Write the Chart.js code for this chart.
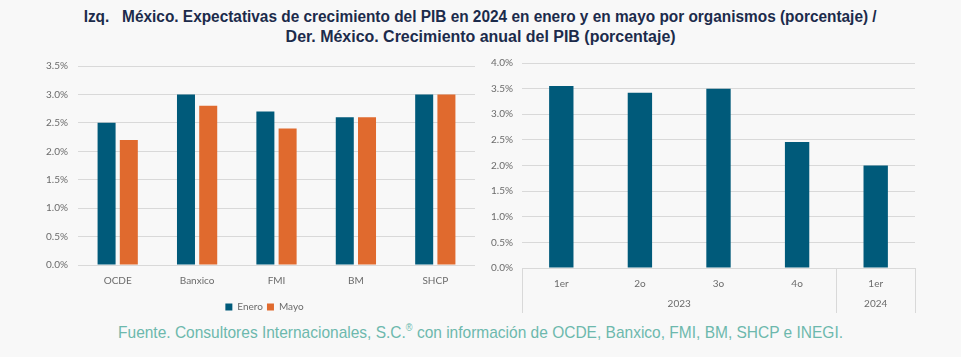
<!DOCTYPE html>
<html>
<head>
<meta charset="utf-8">
<script src="https://cdn.jsdelivr.net/npm/chart.js@4.4.1/dist/chart.umd.min.js"></script>
<style>
  html, body { margin:0; padding:0; background:#f8f8f8; }
  body { width:961px; height:357px; position:relative; overflow:hidden; }
  .line { position:absolute; left:0; width:961px; text-align:center; white-space:nowrap; }
  .line span { display:inline-block; transform-origin:center center; }
  #t1, #t2 { font-family:"Liberation Sans", Arial, sans-serif; font-weight:bold; font-size:16px; color:#1c2b4b; }
  #t1 { top:8px; }
  #t2 { top:28px; }
  #foot { top:322px; font-family:"Liberation Sans", Arial, sans-serif; font-size:17px; color:#6db8ad; }
  #c1wrap { position:absolute; left:30px; top:50px; width:450px; height:272px; }
  #c2wrap { position:absolute; left:485px; top:48px; width:440px; height:267px; }
</style>
</head>
<body>
<div class="line" id="t1"><span data-w="793">Izq.&nbsp;&nbsp; México. Expectativas de crecimiento del PIB en 2024 en enero y en mayo por organismos (porcentaje) /</span></div>
<div class="line" id="t2"><span data-w="390">Der. México. Crecimiento anual del PIB (porcentaje)</span></div>
<div class="line" id="foot"><span data-w="725">Fuente. Consultores Internacionales, S.C.<sup style="font-size:10px">®</sup> con información de OCDE, Banxico, FMI, BM, SHCP e INEGI.</span></div>
<div id="c1wrap"><canvas id="c1"></canvas></div>
<div id="c2wrap"><canvas id="c2"></canvas></div>
<script>
// ---- Data ----
const organismos = ['OCDE', 'Banxico', 'FMI', 'BM', 'SHCP'];
const enero = [2.5, 3.0, 2.7, 2.6, 3.0];
const mayo = [2.2, 2.8, 2.4, 2.6, 3.0];
const leftTicksMax = 3.5;

const trimestres = ['1er', '2o', '3o', '4o', '1er'];
const crecimiento = [3.55, 3.42, 3.5, 2.46, 2.0];
const anios = ['2023', '2024'];
const aniosCount = [4, 1];
const rightTicksMax = 4.0;

// ---- Title scaling ----
document.querySelectorAll('.line span').forEach(s => {
  const target = parseFloat(s.dataset.w);
  const w = s.getBoundingClientRect().width;
  s.style.transform = 'scaleX(' + (target / w) + ')';
});

const BLUE = '#005a7a';
const ORANGE = '#e06a2e';
const GRID = '#d9d9d9';
const TICK = '#6b6b6b';
const FONT = 'Lato, "Open Sans", sans-serif';

Chart.defaults.font.family = FONT;
Chart.defaults.font.size = 10;
Chart.defaults.color = TICK;
Chart.defaults.animation = false;
Chart.defaults.responsive = true;
Chart.defaults.maintainAspectRatio = false;

const pct = v => Number(v).toFixed(1) + '%';

const shiftLegend = {
  id: 'shiftLegend',
  afterLayout(chart) {
    if (chart.legend) { chart.legend.left += 12; chart.legend.right += 12; }
  }
};

new Chart(document.getElementById('c1'), {
  type: 'bar',
  data: {
    labels: organismos,
    datasets: [
      { label: 'Enero', data: enero, backgroundColor: BLUE, categoryPercentage: 0.56, barPercentage: 0.81 },
      { label: 'Mayo', data: mayo, backgroundColor: ORANGE, categoryPercentage: 0.56, barPercentage: 0.81 }
    ]
  },
  options: {
    layout: { padding: { left: 0, right: 5, top: 10, bottom: 0 } },
    plugins: {
      legend: {
        position: 'bottom',
        labels: { boxWidth: 7, boxHeight: 7, padding: 4, color: TICK, font: { size: 10 } }
      },
      tooltip: { enabled: false }
    },
    scales: {
      x: {
        grid: { display: false, drawTicks: false },
        border: { display: false },
        ticks: { padding: 10, color: TICK },
        afterFit: s => { s.height = 33; }
      },
      y: {
        min: 0, max: leftTicksMax,
        ticks: { stepSize: 0.5, callback: pct, padding: 10, color: TICK },
        grid: { color: GRID, drawTicks: false },
        border: { display: false },
        afterFit: s => { s.width = 48; }
      }
    }
  },
  plugins: [shiftLegend]
});

const groupAxis = {
  id: 'groupAxis',
  afterDraw(chart) {
    const x = chart.scales.x;
    const ctx = chart.ctx;
    const area = chart.chartArea;
    const step = x.getPixelForValue(1) - x.getPixelForValue(0);
    const edge = i => x.getPixelForValue(i) - step / 2;
    ctx.save();
    ctx.strokeStyle = GRID;
    ctx.lineWidth = 1;
    let idx = 0;
    const bounds = [0];
    aniosCount.forEach(c => { idx += c; bounds.push(idx); });
    bounds.forEach(b => {
      const px = Math.round(edge(b)) + 0.5;
      ctx.beginPath();
      ctx.moveTo(px, area.bottom);
      ctx.lineTo(px, area.bottom + 45);
      ctx.stroke();
    });
    ctx.fillStyle = TICK;
    ctx.font = '10px ' + FONT;
    ctx.textAlign = 'center';
    ctx.textBaseline = 'middle';
    for (let g = 0; g < anios.length; g++) {
      const cx = (edge(bounds[g]) + edge(bounds[g + 1])) / 2;
      ctx.fillText(anios[g], cx, area.bottom + 36);
    }
    ctx.restore();
  }
};

new Chart(document.getElementById('c2'), {
  type: 'bar',
  data: {
    labels: trimestres,
    datasets: [
      { label: 'PIB', data: crecimiento, backgroundColor: BLUE, categoryPercentage: 0.5, barPercentage: 0.62 }
    ]
  },
  options: {
    layout: { padding: { left: 0, right: 10, top: 8, bottom: 0 } },
    plugins: { legend: { display: false }, tooltip: { enabled: false } },
    scales: {
      x: {
        grid: { display: false, drawTicks: false },
        border: { display: false },
        ticks: { padding: 10, color: TICK },
        afterFit: s => { s.height = 47; }
      },
      y: {
        min: 0, max: rightTicksMax,
        ticks: { stepSize: 0.5, callback: pct, padding: 9, color: TICK },
        grid: { color: GRID, drawTicks: false },
        border: { display: false },
        afterFit: s => { s.width = 37; }
      }
    }
  },
  plugins: [groupAxis]
});
</script>
</body>
</html>
